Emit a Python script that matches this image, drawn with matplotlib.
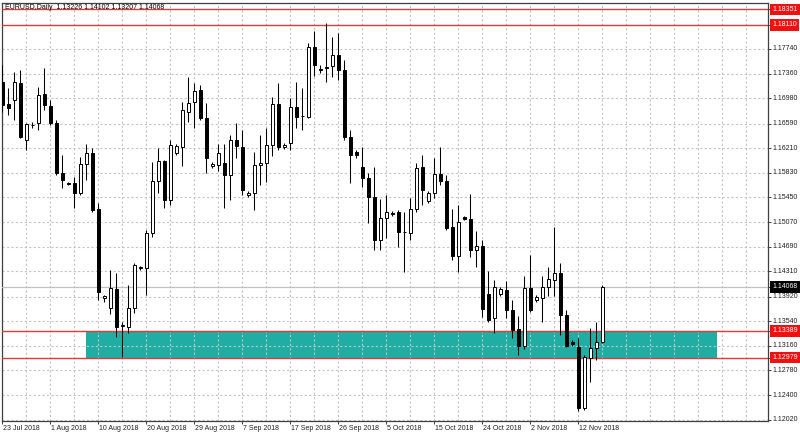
import matplotlib.pyplot as plt
from matplotlib.patches import Rectangle

plt.rcParams['font.family'] = ['Liberation Sans', 'DejaVu Sans']

# EURUSD daily bars (bar 0 = 23 Jul 2018, includes Sunday bars)
opens = [1.1723, 1.1689, 1.1695, 1.1722, 1.1634, 1.1657, 1.1660, 1.1705, 1.1686, 1.1660,
         1.1583, 1.1567, 1.1567, 1.1552, 1.1597, 1.1614, 1.1527, 1.1390, 1.1375, 1.1404,
         1.1347, 1.1345, 1.1374, 1.1436, 1.1436, 1.1490, 1.1570, 1.1601, 1.1541, 1.1614,
         1.1622, 1.1677, 1.1692, 1.1711, 1.1668, 1.1593, 1.1595, 1.1598, 1.1580, 1.1634,
         1.1622, 1.1549, 1.1552, 1.1595, 1.1598, 1.1626, 1.1689, 1.1622, 1.1629, 1.1685,
         1.1671, 1.1669, 1.1777, 1.1743, 1.1746, 1.1748, 1.1765, 1.1742, 1.1638, 1.1615,
         1.1592, 1.1575, 1.1546, 1.1479, 1.1513, 1.1521, 1.1523, 1.1492, 1.1490, 1.1527,
         1.1592, 1.1539, 1.1552, 1.1581, 1.1570, 1.1499, 1.1455, 1.1515, 1.1512, 1.1464,
         1.1470, 1.1396, 1.1359, 1.1396, 1.1402, 1.1371, 1.1342, 1.1316, 1.1405, 1.1387,
         1.1390, 1.1407, 1.1418, 1.1428, 1.1364, 1.1322, 1.1314, 1.1220, 1.1297, 1.1313,
         1.13226]
highs = [1.1749, 1.1714, 1.1739, 1.1742, 1.1660, 1.1661, 1.1715, 1.1745, 1.1695, 1.1664,
         1.1610, 1.1569, 1.1577, 1.1607, 1.1627, 1.1621, 1.1536, 1.1395, 1.1433, 1.1428,
         1.1353, 1.1410, 1.1444, 1.1439, 1.1495, 1.1600, 1.1621, 1.1603, 1.1634, 1.1627,
         1.1692, 1.1731, 1.1722, 1.1718, 1.1691, 1.1600, 1.1627, 1.1627, 1.1641, 1.1660,
         1.1649, 1.1555, 1.1615, 1.1641, 1.1652, 1.1700, 1.1722, 1.1629, 1.1698, 1.1723,
         1.1714, 1.1783, 1.1802, 1.1749, 1.1814, 1.1793, 1.1799, 1.1757, 1.1649, 1.1618,
         1.1623, 1.1583, 1.1592, 1.1543, 1.1549, 1.1524, 1.1526, 1.1523, 1.1544, 1.1598,
         1.1610, 1.1555, 1.1606, 1.1623, 1.1580, 1.1527, 1.1533, 1.1516, 1.1550, 1.1493,
         1.1479, 1.1431, 1.1418, 1.1407, 1.1416, 1.1387, 1.1362, 1.1424, 1.1456, 1.1394,
         1.1424, 1.1438, 1.1499, 1.1444, 1.1371, 1.1325, 1.1328, 1.1302, 1.1343, 1.1353,
         1.14102]
lows = [1.1677, 1.1672, 1.1664, 1.1637, 1.1618, 1.1652, 1.1649, 1.1680, 1.1657, 1.1580,
        1.1560, 1.1564, 1.1529, 1.1549, 1.1572, 1.1523, 1.1387, 1.1384, 1.1365, 1.1330,
        1.1299, 1.1336, 1.1367, 1.1433, 1.1394, 1.1484, 1.1552, 1.1529, 1.1533, 1.1610,
        1.1594, 1.1661, 1.1652, 1.1664, 1.1583, 1.1590, 1.1585, 1.1529, 1.1541, 1.1606,
        1.1549, 1.1546, 1.1526, 1.1564, 1.1569, 1.1609, 1.1618, 1.1620, 1.1618, 1.1652,
        1.1649, 1.1668, 1.1732, 1.1737, 1.1723, 1.1731, 1.1726, 1.1634, 1.1567, 1.1606,
        1.1561, 1.1505, 1.1464, 1.1464, 1.1482, 1.1516, 1.1469, 1.1430, 1.1479, 1.1523,
        1.1533, 1.1536, 1.1544, 1.1564, 1.1495, 1.1448, 1.1430, 1.1510, 1.1453, 1.1438,
        1.1361, 1.1353, 1.1336, 1.1393, 1.1359, 1.1328, 1.1302, 1.1311, 1.1368, 1.1384,
        1.1353, 1.1393, 1.1393, 1.1333, 1.1314, 1.1316, 1.1215, 1.1217, 1.1260, 1.1294,
        1.13207]
closes = [1.1688, 1.1683, 1.1723, 1.1638, 1.1658, 1.1656, 1.1703, 1.1688, 1.1660, 1.1583,
          1.1572, 1.1566, 1.1552, 1.1597, 1.1614, 1.1526, 1.1399, 1.1393, 1.1406, 1.1345,
          1.1348, 1.1374, 1.1441, 1.1437, 1.1490, 1.1570, 1.1601, 1.1541, 1.1626, 1.1624,
          1.1680, 1.1691, 1.1709, 1.1668, 1.1606, 1.1597, 1.1614, 1.1580, 1.1634, 1.1624,
          1.1556, 1.1552, 1.1595, 1.1598, 1.1626, 1.1689, 1.1622, 1.1626, 1.1685, 1.1669,
          1.1670, 1.1777, 1.1749, 1.1742, 1.1745, 1.1765, 1.1742, 1.1638, 1.1610, 1.1610,
          1.1575, 1.1546, 1.1479, 1.1513, 1.1523, 1.1520, 1.1492, 1.1491, 1.1527, 1.1590,
          1.1556, 1.1552, 1.1581, 1.1570, 1.1498, 1.1455, 1.1507, 1.1512, 1.1464, 1.1470,
          1.1373, 1.1356, 1.1407, 1.1404, 1.1371, 1.1340, 1.1316, 1.1405, 1.1371, 1.1391,
          1.1407, 1.1419, 1.1428, 1.1364, 1.1316, 1.1319, 1.1220, 1.1299, 1.1313, 1.1322,
          1.14068]

date_labels = ["23 Jul 2018", "1 Aug 2018", "10 Aug 2018", "20 Aug 2018", "29 Aug 2018",
               "7 Sep 2018", "17 Sep 2018", "26 Sep 2018", "5 Oct 2018", "15 Oct 2018",
               "24 Oct 2018", "2 Nov 2018", "12 Nov 2018"]
price_ticks = [1.17740, 1.17360, 1.16980, 1.16590, 1.16210, 1.15830, 1.15450, 1.15070,
               1.14690, 1.14310, 1.13920, 1.13540, 1.13160, 1.12780, 1.12400, 1.12020]
red_levels = [1.18351, 1.18110, 1.13389, 1.12979]
last_price = 1.14068
zone_low, zone_high = 1.12979, 1.13389
zone_start, zone_end = 13.95, 119.07   # bar units
title = "EURUSD,Daily  1.13226 1.14102 1.13207 1.14068"

n = len(opens)
xs = list(range(n))

fig = plt.figure(figsize=(8, 4.38), dpi=100)
ax = fig.add_axes([2 / 800, 17.3 / 438, 765.5 / 800, 418 / 438])
ax.set_xlim(-0.05, 127.53)
ax.set_ylim(1.12005, 1.18454)

# support zone
ax.add_patch(Rectangle((zone_start, zone_low), zone_end - zone_start, zone_high - zone_low,
                       facecolor='#20ada3', edgecolor='none', zorder=1))

# dotted grid
for p in price_ticks:
    ax.axhline(p, color='#c4c4c4', lw=0.8, ls=(0, (2, 2)), zorder=2)
for i in range(0, 128, 4):
    ax.axvline(i, color='#c4c4c4', lw=0.8, ls=(0, (2, 2)), zorder=2)

# levels
for lv in red_levels:
    ax.axhline(lv, color='#e0393b', lw=1.0, zorder=3)
ax.axhline(last_price, color='#c0c0c0', lw=0.9, zorder=3)

# candles
ax.vlines(xs, lows, highs, color='black', lw=0.75, zorder=4)
for x, o, c in zip(xs, opens, closes):
    up = c >= o
    ax.add_patch(Rectangle((x - 0.3, min(o, c)), 0.6, max(abs(c - o), 0.00004),
                           facecolor='white' if up else 'black', edgecolor='black',
                           lw=0.7, zorder=5))

# axes styling
for s in ax.spines.values():
    s.set_color('#404040')
    s.set_linewidth(0.9)
ax.yaxis.tick_right()
ax.set_yticks(price_ticks + red_levels + [last_price])
ax.set_xticks(range(0, 97, 8))
ax.tick_params(axis='both', length=2.5, width=0.7, color='#404040',
               labelleft=False, labelright=False, labelbottom=False)

ytr = ax.get_yaxis_transform()
for p in price_ticks:
    ax.text(1.0065, p, f"{p:.5f}", transform=ytr, fontsize=5, va='center', ha='left',
            color='#202020', clip_on=False)
for lv in red_levels:
    ax.text(1.0065, lv, f"{lv:.5f}", transform=ytr, fontsize=5, va='center', ha='left',
            color='white', clip_on=False,
            bbox=dict(boxstyle='square,pad=0.3', fc='#f01010', ec='none'))
ax.text(1.0065, last_price, f"{last_price:.5f}", transform=ytr, fontsize=5, va='center',
        ha='left', color='white', clip_on=False,
        bbox=dict(boxstyle='square,pad=0.3', fc='black', ec='none'))

xtr = ax.get_xaxis_transform()
for k, lab in enumerate(date_labels):
    ax.text(k * 8 + 0.1, -0.011, lab, transform=xtr, fontsize=5, va='top', ha='left',
            color='#202020', clip_on=False)

fig.text(5 / 800, 1 - 7.3 / 438, title, fontsize=5, va='center', ha='left', color='black')

fig.savefig('out.png', dpi=100)
